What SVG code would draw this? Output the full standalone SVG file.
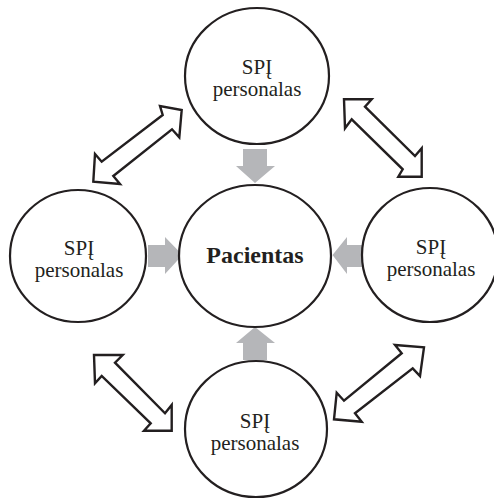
<svg xmlns="http://www.w3.org/2000/svg" width="494" height="499" viewBox="0 0 494 499">
<style>
.node ellipse{fill:#fff;stroke:#231f20;stroke-width:2.2}
.lbl{font-family:"Liberation Serif","Times New Roman",serif;font-size:21px;fill:#231f20;text-anchor:middle}
.main{font-family:"Liberation Serif","Times New Roman",serif;font-size:24px;font-weight:bold;fill:#231f20;text-anchor:middle}
.flow{fill:#b5b6b9;stroke:none}
.dbl{fill:#fff;stroke:#231f20;stroke-width:2.4;stroke-linejoin:miter}
</style>
<rect width="494" height="499" fill="#fff"/>
<g id="connectors">
  <polygon class="flow" points="243,149 267,149 267,166 275,166 255,183 236,166 243,166"/>
  <polygon class="flow" points="243,360 267,360 267,343 275,343 255,327 236,343 243,343"/>
  <polygon class="flow" points="148,245 165,245 165,237 182.5,255 165,274 165,267 148,267"/>
  <polygon class="flow" points="362,245 347,245 347,237 332.5,255 347,274 347,267 362,267"/>
  <polygon class="dbl" points="181.7,110 179.3,137.3 172,129.3 113.3,176 120,184 93.3,181.7 95,154 101.7,161.7 162.7,115 160,106"/>
  <polygon class="dbl" points="344,99.3 371.7,99.3 365,106.7 415,156 421.7,148.3 421.7,176.7 398.3,176.7 402.7,169.3 351.7,119.3 345,128.3"/>
  <polygon class="dbl" points="94,355 122.7,355 115,362.7 165,413.3 171.7,405 171.7,430.7 144,430.7 150.7,423.3 101.7,376 95,383.3"/>
  <polygon class="dbl" points="424,347.3 420,376 412.7,368.3 355,413.3 361.7,421.7 334,419.3 336.7,392.7 344,400.7 401.7,353.3 395,345"/>
</g>
<g id="node-top" class="node">
  <ellipse cx="257" cy="76" rx="72" ry="68"/>
  <text class="lbl" x="257" y="74">SPĮ</text>
  <text class="lbl" x="257" y="96">personalas</text>
</g>
<g id="node-left" class="node">
  <ellipse cx="78" cy="256" rx="68" ry="66"/>
  <text class="lbl" x="79" y="255">SPĮ</text>
  <text class="lbl" x="79" y="277">personalas</text>
</g>
<g id="node-center" class="node">
  <ellipse cx="255" cy="256" rx="76" ry="71"/>
  <text class="main" x="255" y="263">Pacientas</text>
</g>
<g id="node-right" class="node">
  <ellipse cx="430" cy="255" rx="68" ry="67"/>
  <text class="lbl" x="431" y="254">SPĮ</text>
  <text class="lbl" x="431" y="276">personalas</text>
</g>
<g id="node-bottom" class="node">
  <ellipse cx="256" cy="429" rx="71" ry="68"/>
  <text class="lbl" x="255" y="428">SPĮ</text>
  <text class="lbl" x="255" y="450">personalas</text>
</g>
</svg>
